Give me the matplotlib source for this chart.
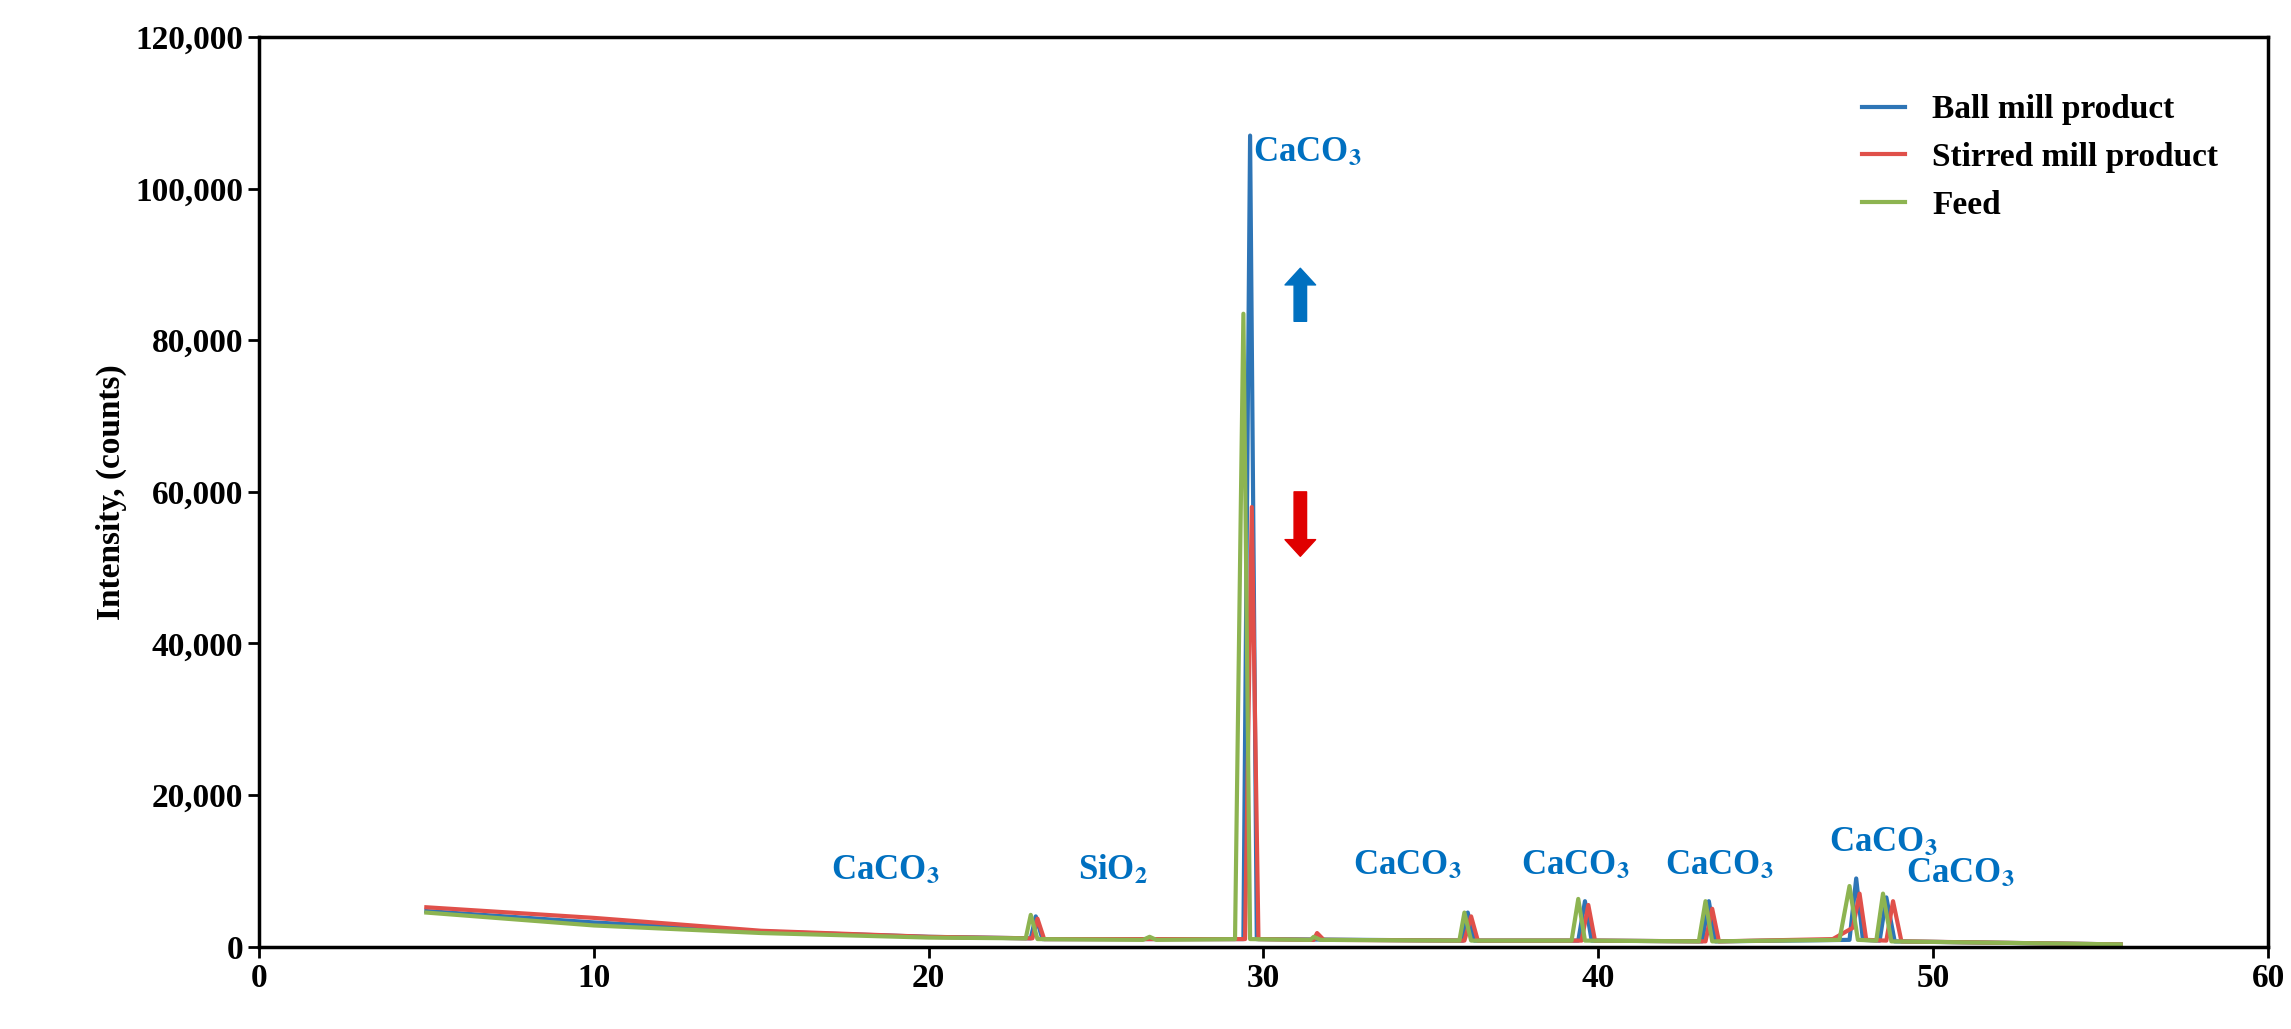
import numpy as np
import matplotlib.pyplot as plt
from matplotlib.ticker import FuncFormatter

plt.rcParams['font.family'] = ['Liberation Serif', 'DejaVu Serif']
plt.rcParams['font.weight'] = 'bold'
plt.rcParams['mathtext.fontset'] = 'stix'

# --- data (each peak as base-top-base) ---
feed_x = [5, 10, 15, 20, 22.9, 23.05, 23.25, 26.4, 26.6, 26.8, 29.15, 29.4, 29.6,
          31.4, 31.5, 31.7, 35.85, 36.0, 36.2, 39.2, 39.4, 39.6, 43.0, 43.2, 43.4,
          47.2, 47.5, 47.75, 48.3, 48.5, 48.75, 55.6]
feed_y = [4500, 2800, 1800, 1200, 1100, 4200, 1000, 900, 1300, 900, 1000, 83500, 1000,
          900, 1300, 900, 800, 4500, 800, 800, 6300, 800, 700, 6000, 700,
          900, 8000, 900, 800, 7000, 700, 300]

ball_x = [5, 10, 15, 20, 23.05, 23.2, 23.4, 29.4, 29.6, 29.8, 35.95, 36.1, 36.3,
          39.4, 39.6, 39.8, 43.1, 43.3, 43.5, 47.5, 47.7, 47.9, 48.4, 48.6, 48.85, 55.6]
ball_y = [4700, 3200, 2000, 1300, 1100, 4000, 1000, 1000, 107000, 1000, 800, 4500, 800,
          800, 6000, 800, 700, 6000, 700, 900, 9000, 900, 800, 6500, 700, 300]

stir_x = [5, 10, 15, 20, 23.1, 23.25, 23.45, 29.45, 29.65, 29.85, 31.5, 31.6, 31.8,
          36.0, 36.2, 36.4, 39.5, 39.7, 39.9, 43.2, 43.4, 43.6, 47.0, 47.6, 47.8, 48.0,
          48.6, 48.8, 49.05, 55.6]
stir_y = [5200, 3800, 2100, 1300, 1100, 3700, 1000, 1000, 58000, 1000, 900, 1800, 900,
          800, 4000, 800, 800, 5500, 800, 700, 5000, 700, 1000, 2500, 7000, 900,
          800, 6000, 700, 300]

labels = ['CaCO$_3$', 'SiO$_2$', 'CaCO$_3$', 'CaCO$_3$', 'CaCO$_3$', 'CaCO$_3$', 'CaCO$_3$', 'CaCO$_3$']
label_x = [18.7, 25.5, 34.3, 39.3, 43.6, 48.5, 50.8, 31.3]
label_y = [7800, 7800, 8500, 8500, 8500, 11500, 7500, 102500]

fig = plt.figure(figsize=(22.91, 10.29), dpi=100)
ax = fig.add_axes([0.113, 0.08, 0.877, 0.884])

ax.plot(ball_x, ball_y, color='#2E75B6', lw=3, label='Ball mill product')
ax.plot(stir_x, stir_y, color='#E0504A', lw=3, label='Stirred mill product')
ax.plot(feed_x, feed_y, color='#8DB451', lw=3, label='Feed')

for t, x, y in zip(labels, label_x, label_y):
    ax.text(x, y, t, color='#0070C0', fontsize=25, fontweight='bold', ha='center', va='bottom')

# arrows
ax.annotate('', xy=(31.1, 89500), xytext=(31.1, 82500),
            arrowprops=dict(facecolor='#0070C0', edgecolor='#0070C0', width=9, headwidth=22, headlength=12))
ax.annotate('', xy=(31.1, 51500), xytext=(31.1, 60000),
            arrowprops=dict(facecolor='#E00000', edgecolor='#E00000', width=9, headwidth=22, headlength=12))

ax.set_xlim(0, 60)
ax.set_ylim(0, 120000)
ax.set_xticks(np.arange(0, 61, 10))
ax.set_yticks(np.arange(0, 120001, 20000))
ax.yaxis.set_major_formatter(FuncFormatter(lambda v, p: f'{int(v):,}'))
ax.tick_params(labelsize=24, direction='out', length=8, width=2)
for s in ax.spines.values():
    s.set_linewidth(2.5)
ax.set_ylabel('Intensity, (counts)', fontsize=24, fontweight='bold', labelpad=6)

ax.legend(loc='upper right', bbox_to_anchor=(0.99, 0.97), frameon=False, fontsize=24,
          handlelength=1.3, labelspacing=0.5)

fig.savefig('out.png', dpi=100)
